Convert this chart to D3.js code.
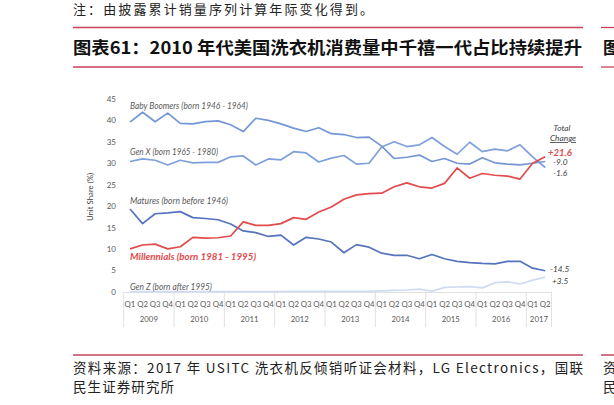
<!DOCTYPE html>
<html><head><meta charset="utf-8">
<script src="https://cdn.jsdelivr.net/npm/d3@7"></script>
<style>body{margin:0;background:#fff;} svg{display:block;}</style>
</head><body>
<svg id="c" width="614" height="405"></svg>
<script>
// ---- data ----
const years = ["2009","2010","2011","2012","2013","2014","2015","2016","2017"];
const quarters = ["Q1","Q2","Q3","Q4"];
const quartersLastYear = ["Q1","Q2"];
const yTicks = [0,5,10,15,20,25,30,35,40,45];
const babyBoomers = [39.6,41.9,39.7,41.7,39.3,39.2,39.7,39.9,39.0,37.4,40.5,40.0,39.2,38.2,37.4,38.3,36.9,36.7,36.0,36.1,34.0,31.1,31.4,31.9,30.4,31.1,30.0,29.8,31.3,30.1,29.8,29.6,30.0,30.4];
const genX = [30.4,31.0,30.7,29.6,30.7,30.1,30.2,30.2,31.5,31.7,29.6,31.0,30.8,32.7,32.4,30.3,31.2,31.8,29.8,30.0,33.8,35.0,33.9,34.3,36.0,33.9,32.1,34.9,32.7,33.3,32.9,34.3,31.5,29.0];
const matures = [19.3,15.9,18.2,18.4,18.7,17.3,17.1,16.8,15.8,14.2,13.8,12.9,13.2,10.9,12.7,12.3,11.6,9.1,11.0,10.4,9.0,8.5,8.5,7.7,8.7,7.7,7.1,6.8,6.6,6.5,7.1,7.1,5.5,4.9];
const millennials = [10.0,10.9,11.1,10.0,10.5,12.7,12.5,12.6,13.0,16.3,15.5,15.5,15.9,17.3,16.9,18.6,19.8,21.6,22.6,22.9,23.0,24.5,25.4,24.5,24.2,25.3,28.9,26.5,27.6,27.2,27.0,26.3,30.0,31.5];
const genZ = [0,0,0,0,0,0,0,0,0,0,0,0,0,0.1,0.1,0.1,0.1,0.1,0.1,0.1,0.2,0.3,0.4,0.6,0.1,1.0,1.1,1.2,0.9,2.1,2.3,1.8,2.7,3.4];
const seriesLabels = ["Baby Boomers (born 1946 - 1964)","Gen X (born 1965 - 1980)","Matures (born before 1946)","Millennials (born 1981 - 1995)","Gen Z (born after 1995)"];
const changeLabels = ["-9.0","-1.6","-14.5","+21.6","+3.5"];
const noteText = "注：由披露累计销量序列计算年际变化得到。";
const titleText = "图表61：2010 年代美国洗衣机消费量中千禧一代占比持续提升";
const sourceLine1 = "资料来源：2017 年 USITC 洗衣机反倾销听证会材料，LG Electronics，国联";
const sourceLine2 = "民生证券研究所";
const yAxisTitle = "Unit Share (%)";

// ---- build ----
const cats = years.flatMap(yr => (yr === "2017" ? quartersLastYear : quarters).map(q => yr + q));
const svg = d3.select("#c");
const cjk = "'Noto Sans CJK SC', sans-serif";
const lat = "Lato, 'Open Sans', sans-serif";

// header
svg.append("text").attr("x",73).attr("y",14).attr("font-family",cjk).attr("font-size",13)
  .attr("fill","#222").attr("textLength",300).attr("lengthAdjust","spacing").text(noteText);
const redTop = "#c9405a";
[[73,583],[601,614]].forEach(([a,b])=>{
  svg.append("line").attr("x1",a).attr("x2",b).attr("y1",27.5).attr("y2",27.5).attr("stroke",redTop).attr("stroke-width",1.3);
  svg.append("line").attr("x1",a).attr("x2",b).attr("y1",67).attr("y2",67).attr("stroke",redTop).attr("stroke-width",1.3);
  svg.append("line").attr("x1",a).attr("x2",b).attr("y1",355).attr("y2",355).attr("stroke","#d27487").attr("stroke-width",2);
});
svg.append("text").attr("x",73).attr("y",54).attr("font-family",cjk).attr("font-size",17).attr("font-weight",700)
  .attr("fill","#111").attr("textLength",509).attr("lengthAdjust","spacingAndGlyphs").text(titleText);
svg.append("text").attr("x",603).attr("y",54).attr("font-family",cjk).attr("font-size",17).attr("font-weight",700).attr("fill","#111").text("图");
svg.append("text").attr("x",73).attr("y",373).attr("font-family",cjk).attr("font-size",13.5)
  .attr("fill","#222").attr("textLength",510).attr("lengthAdjust","spacing").text(sourceLine1);
svg.append("text").attr("x",73).attr("y",392).attr("font-family",cjk).attr("font-size",13.5)
  .attr("fill","#222").attr("textLength",101).attr("lengthAdjust","spacing").text(sourceLine2);
svg.append("text").attr("x",603).attr("y",373).attr("font-family",cjk).attr("font-size",13.5).attr("fill","#222").text("资");
svg.append("text").attr("x",603).attr("y",392).attr("font-family",cjk).attr("font-size",13.5).attr("fill","#222").text("民");

// chart
const x = d3.scaleBand().domain(cats).range([123.7, 551.5]);
const cx = d => x(d) + x.bandwidth()/2;
const y = d3.scaleLinear().domain([0,45]).range([291.7, 99]);
const axisCol = "#595959";

const gy = svg.append("g").attr("transform","translate(118,0)")
  .call(d3.axisLeft(y).tickValues(yTicks).tickSize(0).tickPadding(2));
gy.select(".domain").remove();
gy.selectAll("text").attr("font-family",lat).attr("font-size",8).attr("fill",axisCol);

const gx = svg.append("g").attr("transform","translate(0,292)")
  .call(d3.axisBottom(x).tickSize(0).tickPadding(9).tickFormat(d => d.slice(4)));
gx.select(".domain").attr("stroke","#d9d9d9").attr("stroke-width",0.8);
gx.selectAll("text").attr("font-family",lat).attr("font-size",7.8).attr("fill",axisCol);

// year separators & labels
const yearBounds = years.map(yr => cats.filter(c => c.startsWith(yr)));
const sepX = yearBounds.map(g => x(g[0])).concat([x.range()[1]]);
svg.append("g").selectAll("line").data(sepX).join("line")
  .attr("x1",d=>d).attr("x2",d=>d).attr("y1",292).attr("y2",327)
  .attr("stroke","#d9d9d9").attr("stroke-width",0.8);
svg.append("g").selectAll("text").data(yearBounds).join("text")
  .attr("x", g => (x(g[0]) + x(g[g.length-1]) + x.bandwidth())/2)
  .attr("y",322).attr("text-anchor","middle").attr("font-family",lat).attr("font-size",7.8).attr("fill",axisCol)
  .text((g,i)=>years[i]);

svg.append("text").attr("transform","translate(93,197) rotate(-90)").attr("text-anchor","middle")
  .attr("font-family",lat).attr("font-size",7.8).attr("fill","#404040").text(yAxisTitle);

// lines
const line = vals => d3.line().x((d,i)=>cx(cats[i])).y(d=>y(d))(vals);
const series = [
  {v: genZ, c:"#cfdbf1"},
  {v: matures, c:"#5673be"},
  {v: genX, c:"#7f9fdd"},
  {v: babyBoomers, c:"#7596d6"},
  {v: millennials, c:"#e24a4c"}
];
svg.append("g").selectAll("path").data(series).join("path")
  .attr("d", s => line(s.v)).attr("fill","none").attr("stroke", s => s.c).attr("stroke-width",1.7)
  .attr("stroke-linejoin","round");

// series labels
const labelInfo = [
  {t: seriesLabels[0], y:109, w:118, size:8.6, col:"#595959", bold:false},
  {t: seriesLabels[1], y:155, w:88, size:8.6, col:"#595959", bold:false},
  {t: seriesLabels[2], y:204, w:98, size:8.6, col:"#595959", bold:false},
  {t: seriesLabels[3], y:260, w:126, size:10, col:"#e24a4c", bold:true},
  {t: seriesLabels[4], y:290, w:82, size:8.6, col:"#595959", bold:false}
];
svg.append("g").selectAll("text").data(labelInfo).join("text")
  .attr("x",130).attr("y",d=>d.y).attr("font-family",lat).attr("font-style","italic")
  .attr("font-weight",d=>d.bold?700:400).attr("font-size",d=>d.size).attr("fill",d=>d.col)
  .attr("textLength",d=>d.w).attr("lengthAdjust","spacingAndGlyphs").text(d=>d.t);

// total change labels
svg.append("text").attr("x",562).attr("y",131).attr("text-anchor","middle").attr("font-family",lat)
  .attr("font-style","italic").attr("font-size",8.3).attr("fill","#404040").text("Total");
svg.append("text").attr("x",563).attr("y",141).attr("text-anchor","middle").attr("font-family",lat)
  .attr("font-style","italic").attr("font-size",8.3).attr("fill","#404040").attr("text-decoration","underline").text("Change");
const chg = [
  {t: changeLabels[3], x:548, y:156, col:"#e24a4c", bold:true, size:9.5},
  {t: changeLabels[0], x:553, y:165, col:"#404040", bold:false, size:8.3},
  {t: changeLabels[1], x:553, y:176, col:"#404040", bold:false, size:8.3},
  {t: changeLabels[2], x:550, y:272, col:"#404040", bold:false, size:8.3},
  {t: changeLabels[4], x:552, y:284, col:"#404040", bold:false, size:8.3}
];
svg.append("g").selectAll("text").data(chg).join("text")
  .attr("x",d=>d.x).attr("y",d=>d.y).attr("font-family",lat).attr("font-style","italic")
  .attr("font-weight",d=>d.bold?700:400).attr("font-size",d=>d.size).attr("fill",d=>d.col).text(d=>d.t);
</script>
</body></html>
